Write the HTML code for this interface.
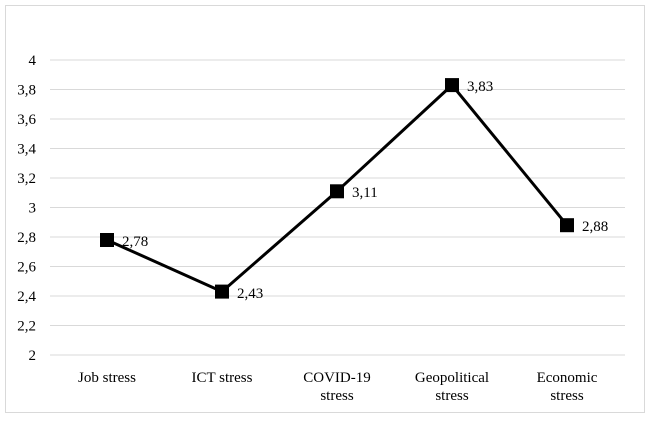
<!DOCTYPE html><html><head><style>body{margin:0;background:#fff} svg text{font-family:"Liberation Serif",serif;font-size:15px}</style></head><body>
<svg width="650" height="421" xmlns="http://www.w3.org/2000/svg" fill="#000">
<rect x="5.5" y="5.5" width="639" height="407" fill="#fff" stroke="#d9d9d9"/>
<g stroke="#d9d9d9" stroke-width="1">
<line x1="50" x2="625" y1="60" y2="60"/><line x1="50" x2="625" y1="89.5" y2="89.5"/><line x1="50" x2="625" y1="119" y2="119"/><line x1="50" x2="625" y1="148.5" y2="148.5"/><line x1="50" x2="625" y1="178" y2="178"/><line x1="50" x2="625" y1="207.5" y2="207.5"/><line x1="50" x2="625" y1="237" y2="237"/><line x1="50" x2="625" y1="266.5" y2="266.5"/><line x1="50" x2="625" y1="296" y2="296"/><line x1="50" x2="625" y1="325.5" y2="325.5"/><line x1="50" x2="625" y1="355" y2="355"/>
</g>
<g text-anchor="end">
<text x="36" y="65">4</text><text x="36" y="94.5">3,8</text><text x="36" y="124">3,6</text><text x="36" y="153.5">3,4</text><text x="36" y="183">3,2</text><text x="36" y="212.5">3</text><text x="36" y="242">2,8</text><text x="36" y="271.5">2,6</text><text x="36" y="301">2,4</text><text x="36" y="330.5">2,2</text><text x="36" y="360">2</text>
</g>
<g text-anchor="middle">
<text x="107" y="382">Job stress</text><text x="222" y="382">ICT stress</text><text x="337" y="382">COVID-19</text><text x="337" y="400">stress</text><text x="452" y="382">Geopolitical</text><text x="452" y="400">stress</text><text x="567" y="382">Economic</text><text x="567" y="400">stress</text>
</g>
<polyline points="107,240 222,291.6 337,191.3 452,85.1 567,225.2" fill="none" stroke="#000" stroke-width="3"/>
<g>
<rect x="100" y="233" width="14" height="14"/><rect x="215" y="284.6" width="14" height="14"/><rect x="330" y="184.3" width="14" height="14"/><rect x="445" y="78.1" width="14" height="14"/><rect x="560" y="218.2" width="14" height="14"/>
</g>
<text x="122" y="246">2,78</text><text x="237" y="298">2,43</text><text x="352" y="197">3,11</text><text x="467" y="91">3,83</text><text x="582" y="231">2,88</text>
</svg>
</body></html>
